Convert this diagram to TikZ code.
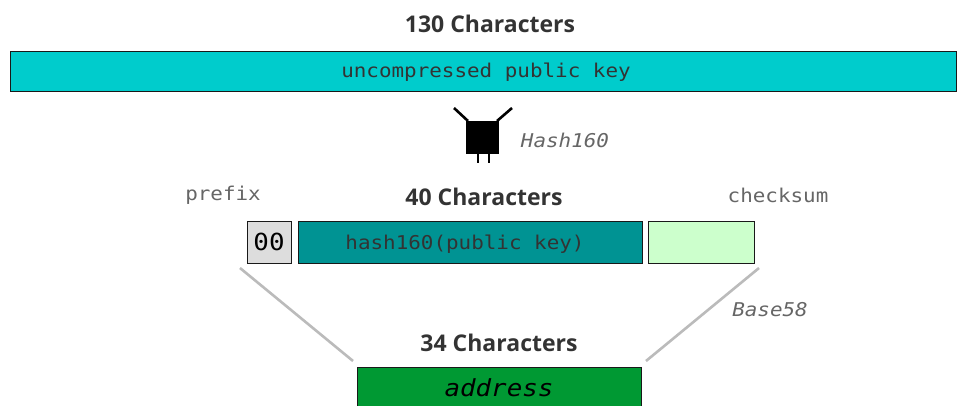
\documentclass[tikz,border=0pt]{standalone}
\usepackage{fontspec}
\setmainfont{Open Sans}
\newfontfamily\titlefam{Open Sans Bold}
\newfontfamily\monofam[FakeStretch=1.1]{DejaVu Sans Mono}
\definecolor{teala}{HTML}{00CCCC}
\definecolor{tealb}{HTML}{009393}
\definecolor{mintc}{HTML}{CCFFCC}
\definecolor{greena}{HTML}{009933}
\definecolor{txtg}{HTML}{333333}
\definecolor{labg}{HTML}{666666}
\definecolor{lineg}{HTML}{BBBBBB}
\definecolor{prefg}{HTML}{DDDDDD}
\tikzset{
  x=1pt,y=-1pt,
  title/.style={font=\bfseries\fontsize{23}{26}\selectfont,text=txtg,inner sep=0pt,anchor=center},
  lab/.style={font=\monofam\fontsize{19}{22}\selectfont,text=labg,inner sep=0pt,anchor=center},
  ilab/.style={lab,font=\monofam\itshape\fontsize{19}{22}\selectfont},
  databox/.style={draw=black!90,line width=1.7pt,inner sep=0pt,anchor=north west},
  boxtxt/.style={font=\monofam\fontsize{19}{22}\selectfont,text=txtg,inner sep=0pt,anchor=center},
  flare/.style={draw=lineg,line width=2.6pt}
}
\begin{document}
\begin{tikzpicture}
\path[use as bounding box,clip] (0,0) rectangle (966,405);
\node[title] (t130) at (490,24) {130 Characters};
\node[databox,fill=teala,minimum width=946,minimum height=40] (pub) at (9.5,50.5) {};
\node[boxtxt] (pubt) at (486,72) {uncompressed public key};
% hash machine
\fill[black] (466,121) rectangle (499,154);
\draw[black,line width=2.6pt] (454,108) -- (468,121);
\draw[black,line width=2.6pt] (512,108) -- (497,121);
\draw[black,line width=2.4pt] (478,153) -- (478,163);
\draw[black,line width=2.4pt] (489,153) -- (489,163);
\node[ilab] (h160) at (565,140) {Hash160};
\node[lab] (pref) at (223,195) {prefix};
\node[title] (t40) at (484,197) {40 Characters};
\node[lab] (chk) at (778,195) {checksum};
\node[databox,fill=prefg,minimum width=44,minimum height=42] (p00) at (246.5,220.5) {};
\node[font=\monofam\fontsize{23.5}{28}\selectfont,text=black,inner sep=0pt] (p00t) at (269,242) {00};
\node[databox,fill=tealb,minimum width=344,minimum height=42] (hash) at (297.5,220.5) {};
\node[boxtxt] (hasht) at (465,244) {hash160(public key)};
\node[databox,fill=mintc,minimum width=106,minimum height=42] (cs) at (647.5,220.5) {};
\coordinate (la) at (240,268);
\coordinate (lb) at (353,361);
\coordinate (ra) at (759,268);
\coordinate (rb) at (646,361);
\draw[flare] (la) -- (lb);
\draw[flare] (ra) -- (rb);
\node[ilab] (b58) at (770,310) {Base58};
\node[title] (t34) at (499,343) {34 Characters};
\node[databox,fill=greena,minimum width=284,minimum height=60] (addr) at (356.5,366.5) {};
\node[font=\monofam\itshape\fontsize{23.5}{28}\selectfont,text=black,inner sep=0pt] (addrt) at (499,388) {address};
\end{tikzpicture}
\end{document}
